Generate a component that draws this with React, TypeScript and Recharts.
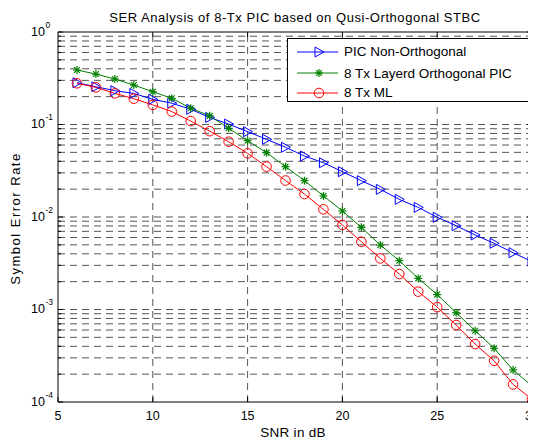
import React from 'react';
import { LineChart, Line, XAxis, YAxis, ReferenceLine, Legend } from 'recharts';

const snr = [6, 7, 8, 9, 10, 11, 12, 13, 14, 15, 16, 17, 18, 19, 20, 21, 22, 23, 24, 25, 26, 27, 28, 29, 30];
const picNonOrth = [0.283, 0.256, 0.232, 0.217, 0.187, 0.170, 0.146, 0.119, 0.101, 0.0836, 0.0692, 0.0567, 0.0456, 0.0386, 0.0309, 0.0247, 0.0199, 0.0155, 0.0127, 0.00993, 0.00805, 0.00639, 0.0052, 0.00411, 0.0033];
const layeredPic = [0.388, 0.351, 0.310, 0.267, 0.226, 0.192, 0.150, 0.124, 0.091, 0.0668, 0.0496, 0.035, 0.0247, 0.0169, 0.0116, 0.00773, 0.00498, 0.00337, 0.00217, 0.00145, 0.000923, 0.00059, 0.000381, 0.000222, 0.000149];
const ml = [0.279, 0.252, 0.217, 0.190, 0.163, 0.138, 0.109, 0.0847, 0.0652, 0.0488, 0.035, 0.0248, 0.0177, 0.0121, 0.0082, 0.0054, 0.00357, 0.00242, 0.00156, 0.00106, 0.00068, 0.000423, 0.000279, 0.000155, 0.000107];

const xTicks = [5, 10, 15, 20, 25, 30];
const xGrid = [10, 15, 20, 25];
const yMajor = [1e-4, 1e-3, 1e-2, 1e-1, 1];
const yMajorExp = ['-4', '-3', '-2', '-1', '0'];
const yMinorMult = [2, 3, 4, 5, 6, 7, 8, 9];

const title = 'SER Analysis of 8-Tx PIC based on Qusi-Orthogonal STBC';
const xLabel = 'SNR in dB';
const yLabel = 'Symbol Error Rate';

const series = [
  { key: 'pic', name: 'PIC Non-Orthogonal', color: '#0000ff', marker: 'tri', values: picNonOrth },
  { key: 'layered', name: '8 Tx Layerd Orthogonal PIC', color: '#008000', marker: 'star', values: layeredPic },
  { key: 'ml', name: '8 Tx ML', color: '#ff0000', marker: 'circle', values: ml },
];

const data = snr.map((s, i) => {
  const row: any = { snr: s };
  series.forEach((sr) => { row[sr.key] = sr.values[i]; });
  return row;
});

const yAll: number[] = [];
yMajor.forEach((m, i) => {
  yAll.push(m);
  if (i < yMajor.length - 1) yMinorMult.forEach((k) => yAll.push(m * k));
});

const FONT = '"Liberation Sans", Arial, Helvetica, sans-serif';
const GRID = '#555555';
const DASH = '7 5';

function Marker({ type, cx, cy, color }: { type: string; cx: number; cy: number; color: string }) {
  if (cx == null || cy == null || isNaN(cx) || isNaN(cy)) return null;
  if (type === 'tri') {
    return <polygon points={`${cx - 4},${cy - 5} ${cx - 4},${cy + 5} ${cx + 5},${cy}`} fill="none" stroke={color} strokeWidth={1} />;
  }
  if (type === 'circle') {
    return <circle cx={cx} cy={cy} r={4.8} fill="none" stroke={color} strokeWidth={1} />;
  }
  const r = 4;
  const d = r * 0.72;
  return (
    <g stroke={color} strokeWidth={1.2}>
      <line x1={cx - r} y1={cy} x2={cx + r} y2={cy} />
      <line x1={cx} y1={cy - r} x2={cx} y2={cy + r} />
      <line x1={cx - d} y1={cy - d} x2={cx + d} y2={cy + d} />
      <line x1={cx - d} y1={cy + d} x2={cx + d} y2={cy - d} />
    </g>
  );
}

const makeDot = (type: string, color: string) => (props: any) => (
  <Marker key={`${type}-${props.index}`} type={type} cx={props.cx} cy={props.cy} color={color} />
);

const LeftTick = (props: any) => {
  const { x, y, payload } = props;
  const v = payload.value;
  const idx = yMajor.indexOf(v);
  const isMajor = idx >= 0;
  return (
    <g>
      <line x1={x} y1={y} x2={x + (isMajor ? 5 : 3)} y2={y} stroke="#000" strokeWidth={1} />
      {isMajor && (
        <text x={x - 27} y={y + 3.5} fontFamily={FONT} fontSize={12.5} fill="#000" textAnchor="start">
          10
          <tspan dx={0.5} dy={-8} fontSize={8.5}>{yMajorExp[idx]}</tspan>
        </text>
      )}
    </g>
  );
};

const RightTick = (props: any) => {
  const { x, y, payload } = props;
  const isMajor = yMajor.includes(payload.value);
  return <line x1={x} y1={y} x2={x - (isMajor ? 5 : 3)} y2={y} stroke="#000" strokeWidth={1} />;
};

const BottomTick = (props: any) => {
  const { x, y, payload } = props;
  return (
    <g>
      <line x1={x} y1={y} x2={x} y2={y - 5} stroke="#000" strokeWidth={1} />
      <text x={x} y={y + 17.5} fontFamily={FONT} fontSize={12.5} fill="#000" textAnchor="middle">
        {payload.value}
      </text>
    </g>
  );
};

const TopTick = (props: any) => {
  const { x, y } = props;
  return <line x1={x} y1={y} x2={x} y2={y + 5} stroke="#000" strokeWidth={1} />;
};

const rowTops = [13, 34.5, 54];

const LegendBox = (props: any) => {
  const payload = props.payload || [];
  return (
    <div
      style={{
        border: '1px solid #000',
        background: '#fff',
        width: 240,
        height: 62,
        boxSizing: 'content-box',
        fontFamily: FONT,
        fontSize: 13.5,
        position: 'relative',
      }}
    >
      {payload.map((p: any) => {
        const i = series.findIndex((s) => s.key === p.dataKey || s.name === p.value);
        if (i < 0) return null;
        const sr = series[i];
        return (
          <div key={sr.key} style={{ position: 'absolute', left: 0, top: rowTops[i] - 10, height: 20, display: 'flex', alignItems: 'center' }}>
            <svg width={56} height={20} style={{ display: 'block' }}>
              <line x1={9} y1={10} x2={50} y2={10} stroke={sr.color} strokeWidth={1} />
              <Marker type={sr.marker} cx={31} cy={10} color={sr.color} />
            </svg>
            <span style={{ color: '#000', whiteSpace: 'nowrap' }}>{sr.name}</span>
          </div>
        );
      })}
    </div>
  );
};

export default function App() {
  return (
    <div style={{ position: 'relative', width: 528, height: 434 }}>
      <LineChart width={528} height={434} data={data} margin={{ top: 23, right: 3, bottom: 10, left: 0 }}>
        <XAxis
          dataKey="snr"
          type="number"
          domain={[5, 30]}
          ticks={xTicks}
          allowDataOverflow
          height={30}
          tickSize={0}
          tickMargin={0}
          tickLine={false}
          axisLine={{ stroke: '#000', strokeWidth: 1 }}
          tick={<BottomTick />}
          interval={0}
        />
        <XAxis
          xAxisId="top"
          orientation="top"
          dataKey="snr"
          type="number"
          domain={[5, 30]}
          ticks={xGrid}
          allowDataOverflow
          height={1}
          tickSize={0}
          tickMargin={0}
          tickLine={false}
          axisLine={{ stroke: '#000', strokeWidth: 1 }}
          tick={<TopTick />}
          interval={0}
        />
        <YAxis
          scale="log"
          type="number"
          domain={[1e-4, 1]}
          ticks={yAll}
          allowDataOverflow
          width={50}
          tickSize={0}
          tickMargin={0}
          tickLine={false}
          axisLine={{ stroke: '#000', strokeWidth: 1 }}
          tick={<LeftTick />}
          interval={0}
        />
        <YAxis
          yAxisId="right"
          orientation="right"
          scale="log"
          type="number"
          domain={[1e-4, 1]}
          ticks={yAll}
          allowDataOverflow
          width={1}
          tickSize={0}
          tickMargin={0}
          tickLine={false}
          axisLine={{ stroke: '#000', strokeWidth: 1 }}
          tick={<RightTick />}
          interval={0}
        />
        {yAll.filter((v) => v > 1e-4 && v < 1).map((v) => (
          <ReferenceLine key={`h${v}`} y={v} stroke={GRID} strokeDasharray={DASH} strokeWidth={1} ifOverflow="hidden" />
        ))}
        {xGrid.map((v) => (
          <ReferenceLine key={`v${v}`} x={v} stroke={GRID} strokeDasharray={DASH} strokeWidth={1} />
        ))}
        {series.map((sr) => (
          <Line
            key={sr.key}
            dataKey={sr.key}
            name={sr.name}
            type="linear"
            stroke={sr.color}
            strokeWidth={1}
            dot={makeDot(sr.marker, sr.color)}
            activeDot={false}
            isAnimationActive={false}
          />
        ))}
        <Legend
          layout="horizontal"
          verticalAlign="middle"
          align="center"
          content={<LegendBox />}
          wrapperStyle={{ position: 'absolute', left: 279, top: 29.5, width: 242, height: 64 }}
        />
      </LineChart>
      <div style={{ position: 'absolute', left: 0, top: 2, width: 574, textAlign: 'center', fontFamily: FONT, fontSize: 13, letterSpacing: 0.55, color: '#000', whiteSpace: 'nowrap', pointerEvents: 'none' }}>
        {title}
      </div>
      <div style={{ position: 'absolute', left: 0, top: 417, width: 570, textAlign: 'center', fontFamily: FONT, fontSize: 13.5, letterSpacing: 0.3, color: '#000', whiteSpace: 'nowrap' }}>
        {xLabel}
      </div>
      <div style={{ position: 'absolute', left: 7, top: 211, width: 0, height: 0 }}>
        <div style={{ position: 'absolute', left: -100, top: -8, width: 200, textAlign: 'center', transform: 'rotate(-90deg)', fontFamily: FONT, fontSize: 13, color: '#000', whiteSpace: 'nowrap', letterSpacing: 1.5 }}>
          {yLabel}
        </div>
      </div>
    </div>
  );
}
